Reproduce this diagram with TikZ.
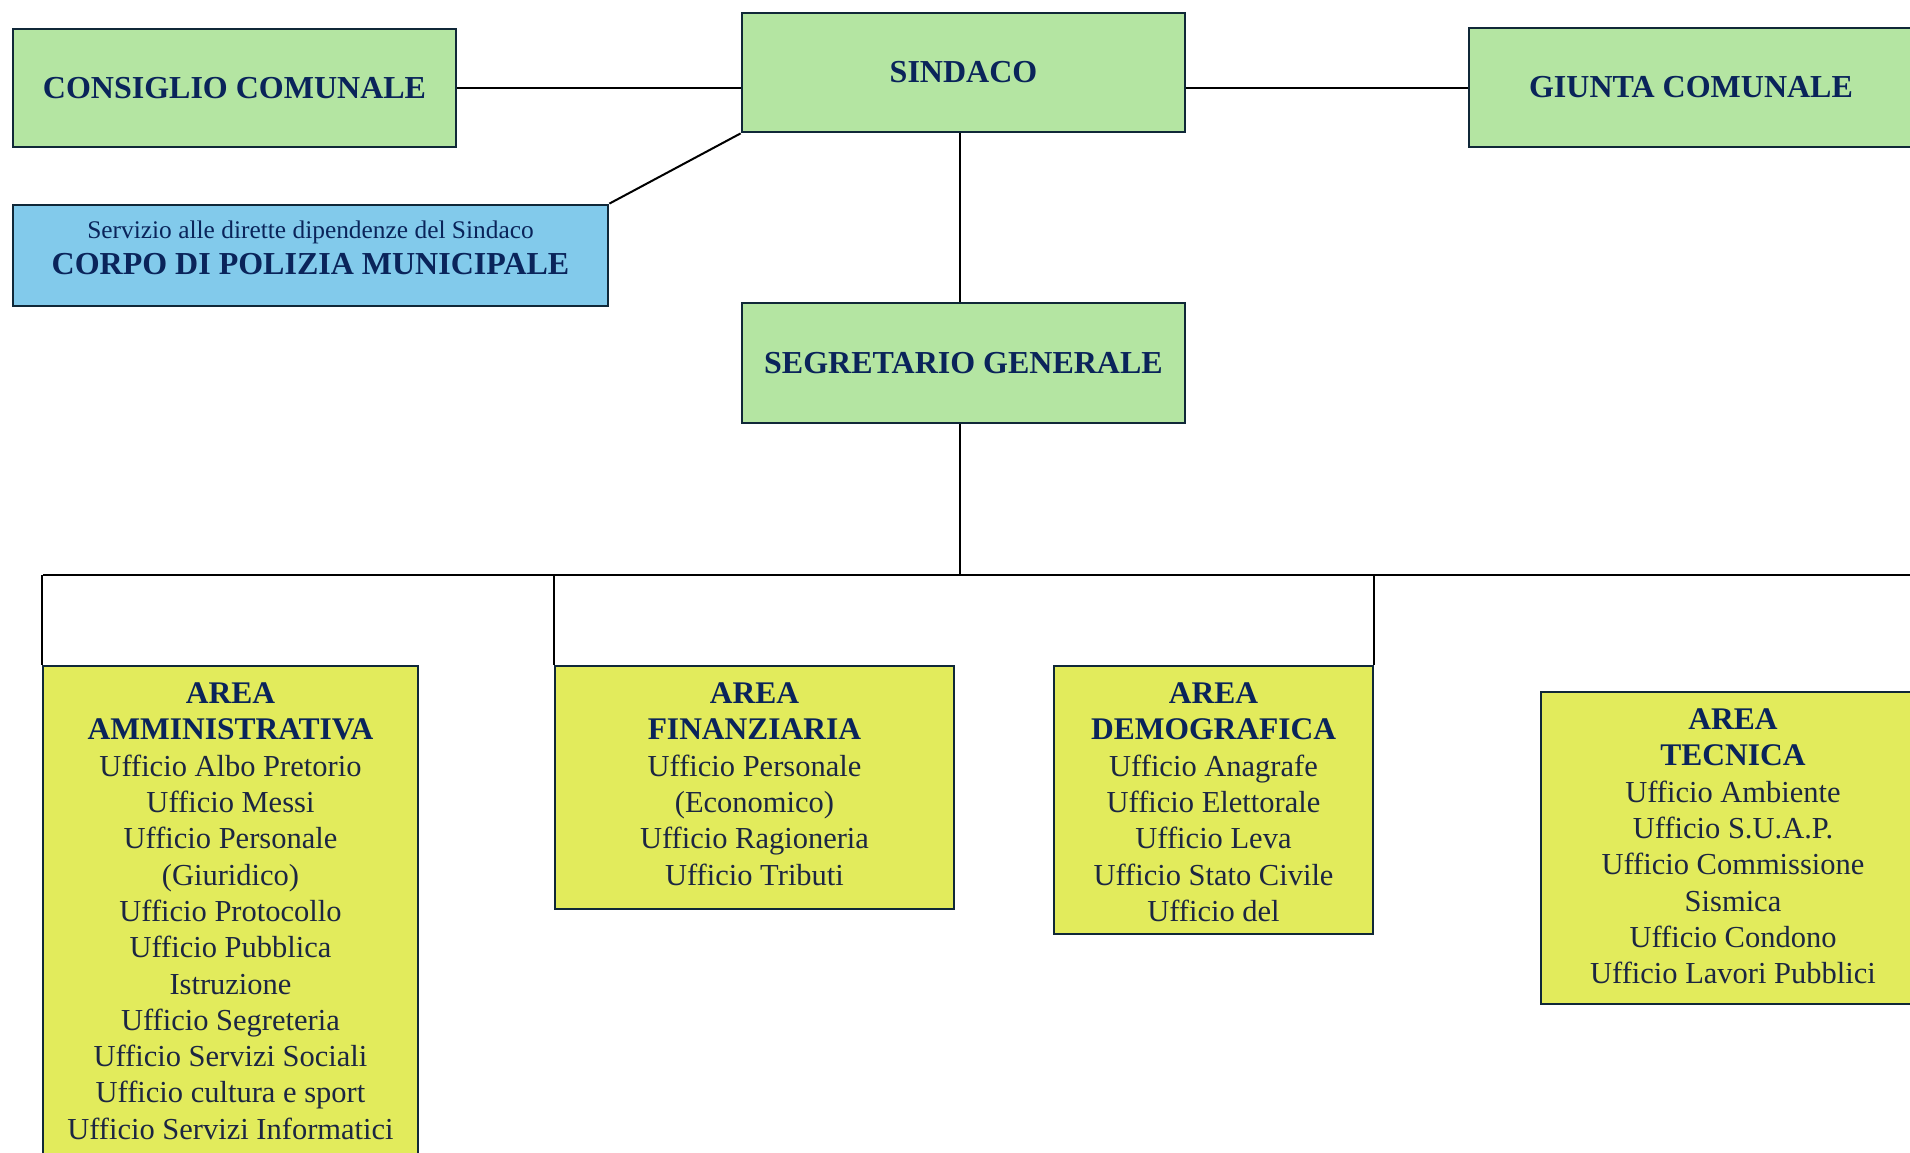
\documentclass[tikz,border=0pt]{standalone}
\usepackage{fontspec}
\setmainfont{Liberation Serif}
\definecolor{boxgreen}{RGB}{180,229,162}
\definecolor{boxblue}{RGB}{130,202,235}
\definecolor{boxyellow}{RGB}{226,235,92}
\definecolor{navy}{RGB}{10,36,90}
\definecolor{bodytxt}{RGB}{28,38,66}
\definecolor{border}{RGB}{16,40,56}
\newcommand\hd[1]{{\fontsize{31.5}{36.3}\selectfont\bfseries\color{navy}#1}}
\begin{document}
\begin{tikzpicture}[x=1pt,y=-1pt,
  rbox/.style={draw=border, line width=2.8pt, inner sep=0pt, text=navy,
    font=\fontsize{32}{37}\selectfont\bfseries},
  gbox/.style={rbox, fill=boxgreen},
  bbox/.style={rbox, fill=boxblue},
  ybox/.style={rbox, fill=boxyellow},
  atext/.style={anchor=north, inner sep=0pt, align=center, text=bodytxt,
    font=\fontsize{30.5}{36.3}\selectfont},
  conn/.style={draw=black, line width=2pt}]
\useasboundingbox (0,0) rectangle (1910,1152);
\clip (0,0) rectangle (1910,1152);

% top level
\node[gbox, minimum width=443pt, minimum height=118pt] (cons) at (234.5,88) {CONSIGLIO COMUNALE};
\node[gbox, minimum width=443pt, minimum height=119pt] (sind) at (963.5,72.5) {SINDACO};
\node[gbox, minimum width=444pt, minimum height=119pt] (giunta) at (1691,87.5) {GIUNTA COMUNALE};
\node[bbox, minimum width=595pt, minimum height=101pt] (pol) at (310.5,255.5) {};
\node[anchor=base, inner sep=0pt, text=navy, font=\fontsize{25.4}{28}\selectfont] (polsub) at (310.5,238) {Servizio alle dirette dipendenze del Sindaco};
\node[anchor=base, inner sep=0pt, text=navy, font=\fontsize{32}{37}\selectfont\bfseries] (poltitle) at (310.5,274) {CORPO DI POLIZIA MUNICIPALE};
\node[gbox, minimum width=443pt, minimum height=120pt] (segr) at (963.5,363) {SEGRETARIO GENERALE};

% areas
\node[ybox, minimum width=375pt, minimum height=504pt] (amm) at (230.5,918) {};
\node[ybox, minimum width=399pt, minimum height=243pt] (fin) at (754.5,787.5) {};
\node[ybox, minimum width=319pt, minimum height=268pt] (demo) at (1213.5,800) {};
\node[ybox, minimum width=384pt, minimum height=312pt] (tec) at (1733,848) {};

\node[atext] (ammt) at ([yshift=-18pt]amm.north) {\hd{AREA}\\\hd{AMMINISTRATIVA}\\Ufficio Albo Pretorio\\Ufficio Messi\\Ufficio Personale\\(Giuridico)\\Ufficio Protocollo\\Ufficio Pubblica\\Istruzione\\Ufficio Segreteria\\Ufficio Servizi Sociali\\Ufficio cultura e sport\\Ufficio Servizi Informatici};
\node[atext] (fint) at ([yshift=-18pt]fin.north) {\hd{AREA}\\\hd{FINANZIARIA}\\Ufficio Personale\\(Economico)\\Ufficio Ragioneria\\Ufficio Tributi};
\node[atext] (demot) at ([yshift=-18pt]demo.north) {\hd{AREA}\\\hd{DEMOGRAFICA}\\Ufficio Anagrafe\\Ufficio Elettorale\\Ufficio Leva\\Ufficio Stato Civile\\Ufficio del};
\node[atext] (tect) at ([yshift=-18pt]tec.north) {\hd{AREA}\\\hd{TECNICA}\\Ufficio Ambiente\\Ufficio S.U.A.P.\\Ufficio Commissione\\Sismica\\Ufficio Condono\\Ufficio Lavori Pubblici};

% connectors
\draw[conn] (cons.east) -- (cons.east -| sind.west);
\draw[conn] (giunta.west) -- (giunta.west -| sind.east);
\draw[conn] (sind.south west) -- (pol.north east);
\draw[conn] ([xshift=-3.5pt]sind.south) -- ([xshift=-3.5pt]segr.north);
\coordinate (busL) at (43,575);
\coordinate (busR) at (1915,575);
\coordinate (busC) at ([xshift=-3.5pt]segr.south |- busL);
\draw[conn] ([xshift=-3.5pt]segr.south) -- (busC);
\draw[conn] (busL) -- (busR);
\draw[conn] (amm.north west) -- (amm.north west |- busL);
\draw[conn] (fin.north west) -- (fin.north west |- busL);
\draw[conn] (demo.north east) -- (demo.north east |- busL);
\end{tikzpicture}
\end{document}
